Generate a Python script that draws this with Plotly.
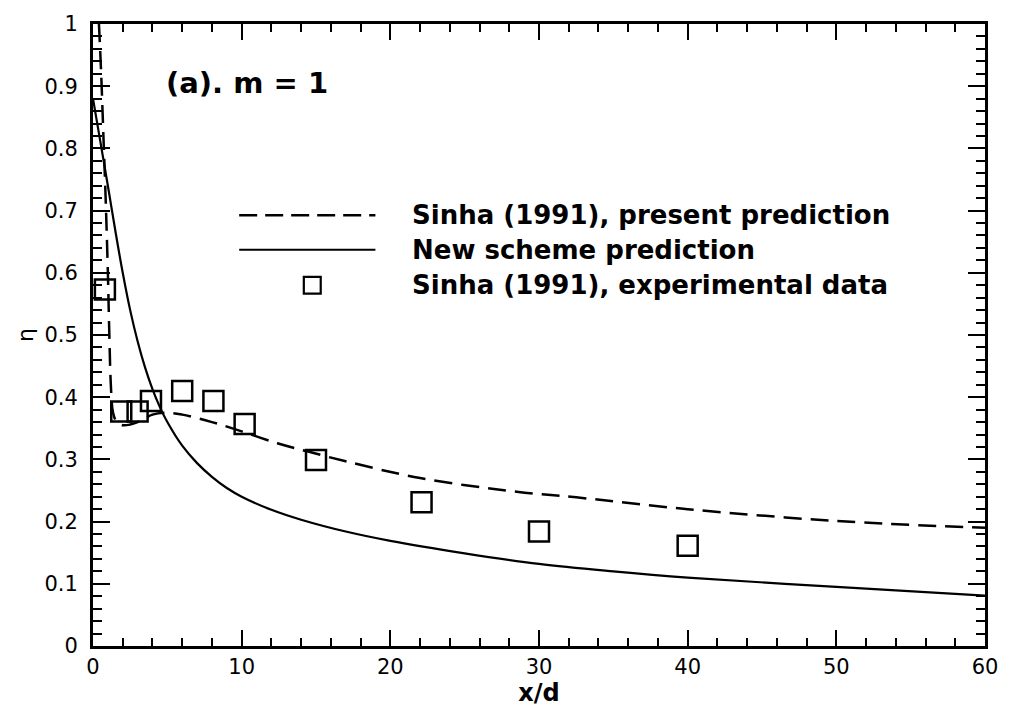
import plotly.graph_objects as go

# ---- data ----
dash_x = [0.4, 0.55, 0.7, 0.85, 1.0, 1.1, 1.2, 1.35, 1.6, 2.0, 2.5, 3.0, 3.5, 4.0, 5.0, 6.0,
          8.0, 10, 12.4, 14.4, 17, 22, 28.5, 32.5, 40, 50, 60]
dash_y = [1.0, 0.92, 0.82, 0.72, 0.6, 0.5, 0.42, 0.375, 0.36, 0.355, 0.356, 0.36, 0.366, 0.372,
          0.375, 0.372, 0.36, 0.345, 0.326, 0.313, 0.297, 0.27, 0.248, 0.239, 0.22, 0.201, 0.19]

solid_x = [0, 0.5, 1.0, 1.5, 2.0, 2.5, 3.0, 3.5, 4.0, 4.5, 5.0, 6.0, 7.0, 8.0, 9.0, 10.0,
           12.0, 14.0, 17.0, 20.0, 25.0, 30.0, 35.0, 40.0, 50.0, 60.0]
solid_y = [0.88, 0.81, 0.74, 0.668, 0.60, 0.54, 0.49, 0.448, 0.413, 0.384, 0.36, 0.322, 0.294,
           0.272, 0.254, 0.24, 0.219, 0.203, 0.184, 0.169, 0.149, 0.132, 0.12, 0.11, 0.095, 0.081]

exp_x = [0.8, 1.9, 3.0, 3.9, 6.0, 8.1, 10.2, 15.0, 22.1, 30.0, 40.0]
exp_y = [0.573, 0.377, 0.377, 0.394, 0.41, 0.394, 0.357, 0.299, 0.231, 0.184, 0.161]

legend_labels = ["Sinha (1991), present prediction",
                 "New scheme prediction",
                 "Sinha (1991), experimental data"]

x_ticks = [0, 10, 20, 30, 40, 50, 60]
y_ticks = [0, 0.1, 0.2, 0.3, 0.4, 0.5, 0.6, 0.7, 0.8, 0.9, 1]

FONT = "DejaVu Sans, Liberation Sans, Arial, sans-serif"

fig = go.Figure()
fig.add_trace(go.Scatter(x=dash_x, y=dash_y, mode="lines", line_shape="spline",
                         line=dict(color="black", width=2.5, dash="18px,9px"),
                         name=legend_labels[0], showlegend=False))
fig.add_trace(go.Scatter(x=solid_x, y=solid_y, mode="lines", line_shape="spline",
                         line=dict(color="black", width=2.2),
                         name=legend_labels[1], showlegend=False))
fig.add_trace(go.Scatter(x=exp_x, y=exp_y, mode="markers",
                         marker=dict(symbol="square-open", size=20, color="black",
                                     line=dict(width=2.5, color="black")),
                         name=legend_labels[2], showlegend=False, cliponaxis=False))

L, R, T, B = 93, 990, 18, 649
W, H = 1010, 708

def px(xp):
    return (xp - L) / (R - L)

def py(yp):
    return (B - yp) / (B - T)

shapes = []
# manual legend
rows = [212, 247, 283]
shapes.append(dict(type="line", xref="paper", yref="paper", x0=px(240), x1=px(377),
                   y0=py(rows[0]), y1=py(rows[0]),
                   line=dict(color="black", width=2.5, dash="18px,8px")))
shapes.append(dict(type="line", xref="paper", yref="paper", x0=px(240), x1=px(377),
                   y0=py(rows[1]), y1=py(rows[1]), line=dict(color="black", width=2.2)))
shapes.append(dict(type="rect", xref="paper", yref="paper", x0=px(305), x1=px(322),
                   y0=py(rows[2] + 8.5), y1=py(rows[2] - 8.5),
                   line=dict(color="black", width=2.2)))

annotations = []
for r, lab in zip(rows, legend_labels):
    annotations.append(dict(xref="paper", yref="paper", x=px(412), y=py(r),
                            text="<b>" + lab + "</b>",
                            showarrow=False, xanchor="left", yanchor="middle",
                            font=dict(family=FONT, size=26, color="black")))
annotations.append(dict(xref="paper", yref="paper", x=px(164), y=py(78),
                        text="<b>(a). m = 1</b>",
                        showarrow=False, xanchor="left", yanchor="middle",
                        font=dict(family=FONT, size=29, color="black")))

fig.update_layout(
    width=W, height=H,
    margin=dict(l=L, r=W - R, t=T, b=H - B),
    paper_bgcolor="white", plot_bgcolor="white",
    font=dict(family=FONT, size=21, color="black"),
    shapes=shapes, annotations=annotations,
    showlegend=False,
)

fig.update_xaxes(range=[0, 60], tickvals=x_ticks, ticks="inside", ticklen=16, tickwidth=2,
                 tickcolor="black", showline=True, linewidth=3, linecolor="black", mirror="ticks",
                 showgrid=False, zeroline=False,
                 minor=dict(dtick=2, ticks="inside", ticklen=8, tickwidth=1.5, tickcolor="black"),
                 title=dict(text="<b>x/d</b>", standoff=0, font=dict(size=24)),
                 tickfont=dict(size=21))
fig.update_yaxes(range=[0, 1], tickvals=y_ticks, ticks="inside", ticklen=17, tickwidth=2,
                 tickcolor="black", showline=True, linewidth=3, linecolor="black", mirror="ticks",
                 showgrid=False, zeroline=False,
                 minor=dict(dtick=0.02, ticks="inside", ticklen=9, tickwidth=1.5, tickcolor="black"),
                 title=dict(text="η", standoff=5, font=dict(size=22)),
                 tickfont=dict(size=21), ticklabelstandoff=8)

fig.write_html("out.html")
